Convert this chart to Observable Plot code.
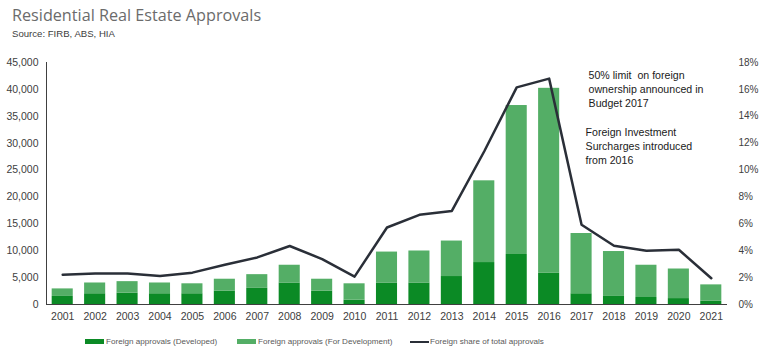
<!DOCTYPE html>
<html><head><meta charset="utf-8">
<script src="https://cdn.jsdelivr.net/npm/d3@7"></script>
<script src="https://cdn.jsdelivr.net/npm/@observablehq/plot@0.6"></script>
<style>
body{margin:0;background:#fff;width:765px;height:361px;overflow:hidden;font-family:"Liberation Sans Narrow","Arial Narrow",sans-serif;}
#head{height:40px;position:relative}
#title{position:absolute;left:12px;top:4px;font-family:"Open Sans",sans-serif;font-size:16.2px;color:#6b6b6b;white-space:nowrap}
#sub{position:absolute;left:12px;top:28px;font-size:9.6px;color:#404040;white-space:nowrap}
#chart{height:290px}
#legend{position:relative;height:31px}
.item{position:absolute;top:7px;display:flex;align-items:center;font-size:8.1px;color:#595959;white-space:nowrap}
.sw{width:19px;height:5px;margin-right:2px}
.ln{width:19px;height:2px;margin-right:1px}
</style></head>
<body>
<div id="head"><div id="title"></div><div id="sub"></div></div>
<div id="chart"></div>
<div id="legend"></div>
<script>
const titleText = "Residential Real Estate Approvals";
const subtitleText = "Source: FIRB, ABS, HIA";
const years = ["2001","2002","2003","2004","2005","2006","2007","2008","2009","2010","2011","2012","2013","2014","2015","2016","2017","2018","2019","2020","2021"];
const developed = [1500,2000,2100,2000,2000,2500,3000,4000,2500,800,4000,4000,5200,7800,9300,5800,2000,1500,1300,1100,600];
const forDevelopment = [1400,2000,2150,2000,1850,2200,2550,3300,2200,3050,5750,5950,6600,15200,27700,34400,11200,8350,6000,5500,3050];
const foreignShare = [2.22,2.3,2.3,2.12,2.37,2.96,3.5,4.35,3.38,2.07,5.73,6.67,6.96,11.4,16.15,16.8,5.93,4.37,4.0,4.07,1.95];
const seriesNames = ["Foreign approvals (Developed)","Foreign approvals (For Development)","Foreign share of total approvals"];
const seriesColors = ["#0b8a25","#54ae66","#2a2f38"];
const leftTicks = [0,5000,10000,15000,20000,25000,30000,35000,40000,45000];
const rightTicks = [0,2,4,6,8,10,12,14,16,18];
const annotations = [
  {year:"2017", value:43700, text:"50% limit  on foreign\nownership announced in\nBudget 2017", dx:7},
  {year:"2017", value:33200, text:"Foreign Investment\nSurcharges introduced\nfrom 2016", dx:4}
];

document.getElementById("title").textContent = titleText;
document.getElementById("sub").textContent = subtitleText;

const ratio = 45000 / 18; // left units per percentage point
const bars = [];
years.forEach((y,i)=>{
  bars.push({year:y, type:seriesNames[0], value:developed[i]});
  bars.push({year:y, type:seriesNames[1], value:forDevelopment[i]});
});
const line = years.map((y,i)=>({year:y, share:foreignShare[i]}));

const chart = Plot.plot({
  width:765, height:290,
  marginTop:22, marginBottom:26, marginLeft:46, marginRight:38,
  style:{fontFamily:'"Liberation Sans Narrow","Arial Narrow",sans-serif', fontSize:"11px", color:"#404040", background:"#fff"},
  x:{domain:years, paddingInner:0.35, paddingOuter:0.175, round:false, label:null},
  y:{domain:[0,45000], label:null},
  color:{domain:seriesNames.slice(0,2), range:seriesColors.slice(0,2)},
  marks:[
    Plot.barY(bars,{x:"year", y:"value", fill:"type", order:seriesNames.slice(0,2)}),
    Plot.ruleY([0],{stroke:"#404040", strokeWidth:1}),
    Plot.frame({anchor:"left", stroke:"#404040"}),
    Plot.lineY(line,{x:"year", y:d=>d.share*ratio, stroke:seriesColors[2], strokeWidth:2.5}),
    Plot.axisX({tickSize:0, tickPadding:8, fontSize:10.5}),
    Plot.axisY({ticks:leftTicks, tickFormat:d3.format(","), tickSize:0, tickPadding:8, label:null, fontSize:10.5}),
    Plot.axisY({anchor:"right", ticks:rightTicks.map(t=>t*ratio), tickFormat:d=>Math.round(d/ratio)+"%", tickSize:0, tickPadding:11, label:null, fontSize:10}),
    ...annotations.map(a => Plot.text([a],{x:"year", y:"value", text:"text", textAnchor:"start", lineAnchor:"top", dx:a.dx, fontSize:10.6, lineHeight:1.32, fill:"#1a1a1a"}))
  ]
});
document.getElementById("chart").appendChild(chart);

const legend = document.getElementById("legend");
const lefts = [85,237,410];
seriesNames.forEach((n,i)=>{
  const it = document.createElement("div");
  it.className="item"; it.style.left = lefts[i]+"px";
  const sw = document.createElement("span");
  sw.className = i<2 ? "sw" : "ln";
  sw.style.background = seriesColors[i];
  const t = document.createElement("span"); t.textContent = n;
  it.appendChild(sw); it.appendChild(t);
  legend.appendChild(it);
});
</script>
</body></html>
